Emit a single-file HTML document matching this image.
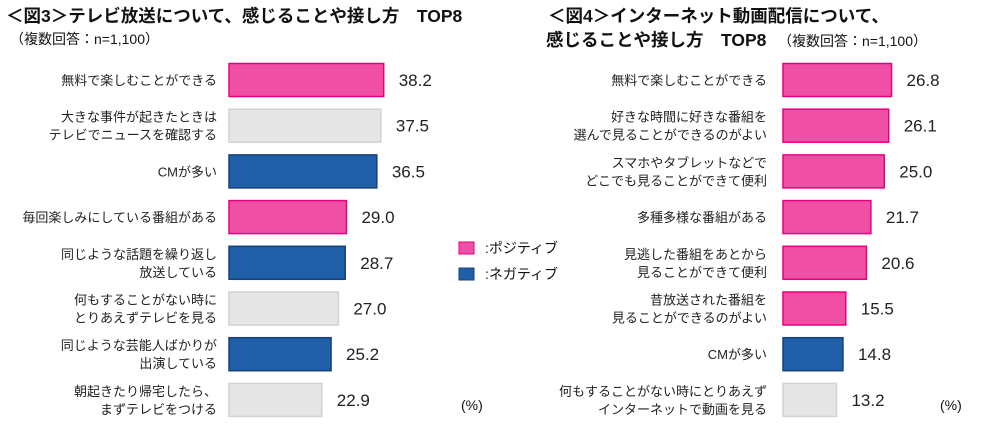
<!DOCTYPE html>
<html><head><meta charset="utf-8"><style>
body{margin:0;background:#fff}
svg{display:block;font-family:"Liberation Sans","Noto Sans CJK JP",sans-serif}
.t{font-size:17.5px;font-weight:bold;fill:#111}
.s{font-size:14px;fill:#111}
.l{font-size:13px;fill:#222}
.v{font-size:17px;font-weight:normal;fill:#222}
</style></head><body>
<svg id="c" width="1000" height="433">
<text class="t" x="6" y="22">＜図3＞テレビ放送について、感じることや接し方　TOP8</text>
<text class="s" x="10" y="44">（複数回答：n=1,100）</text>
<text class="t" x="548" y="22">＜図4＞インターネット動画配信について、</text>
<text class="t" x="546" y="46">感じることや接し方　TOP8</text>
<text class="s" x="778" y="46">（複数回答：n=1,100）</text>
<rect x="459" y="242" width="15" height="12" fill="#f04fa6" stroke="#e6007e"/>
<text class="s" x="485" y="253">:ポジティブ</text>
<rect x="459" y="268" width="15" height="12" fill="#1f5fa8" stroke="#17407a"/>
<text class="s" x="485" y="279">:ネガティブ</text>
<text class="s" x="461" y="410">(%)</text>
<text class="s" x="940" y="410">(%)</text>
</svg>
<script>
const leftLabels=[["無料で楽しむことができる"],["大きな事件が起きたときは","テレビでニュースを確認する"],["CMが多い"],["毎回楽しみにしている番組がある"],["同じような話題を繰り返し","放送している"],["何もすることがない時に","とりあえずテレビを見る"],["同じような芸能人ばかりが","出演している"],["朝起きたり帰宅したら、","まずテレビをつける"]];
const leftValues=[38.2,37.5,36.5,29.0,28.7,27.0,25.2,22.9];
const leftTypes=["p","g","n","p","n","g","n","g"];
const rightLabels=[["無料で楽しむことができる"],["好きな時間に好きな番組を","選んで見ることができるのがよい"],["スマホやタブレットなどで","どこでも見ることができて便利"],["多種多様な番組がある"],["見逃した番組をあとから","見ることができて便利"],["昔放送された番組を","見ることができるのがよい"],["CMが多い"],["何もすることがない時にとりあえず","インターネットで動画を見る"]];
const rightValues=[26.8,26.1,25.0,21.7,20.6,15.5,14.8,13.2];
const rightTypes=["p","p","p","p","p","p","n","g"];
const svg=document.getElementById('c');const NS="http://www.w3.org/2000/svg";
const fills={p:["#f04fa6","#e6007e"],n:["#1f5fa8","#17407a"],g:["#e6e6e6","#d2d2d2"]};
const sx=v=>v*4.05;const rowY=i=>80+i*45.7;
function mk(t,a,txt){const e=document.createElementNS(NS,t);for(const k in a)e.setAttribute(k,a[k]);if(txt)e.textContent=txt;svg.appendChild(e);return e;}
function draw(labels,values,types,x0,lx,side){
values.forEach((v,i)=>{const cy=rowY(i);const c=fills[types[i]];
const r=mk('rect',{x:x0,y:cy-16.5,width:sx(v),height:33,fill:c[0],stroke:c[1],'stroke-width':1.5});


const t=mk('text',{x:x0+sx(v)+15,y:cy+6,class:'v'},v.toFixed(1));


const L=labels[i];L.forEach((s,j)=>{const y=cy+5+(L.length==2?(j?9:-9):0);
const lt=mk('text',{x:lx,y:y,class:'l','text-anchor':'end'},s);

});});}
draw(leftLabels,leftValues,leftTypes,229,217,'left');
draw(rightLabels,rightValues,rightTypes,783,767,'right');
</script>
</body></html>
